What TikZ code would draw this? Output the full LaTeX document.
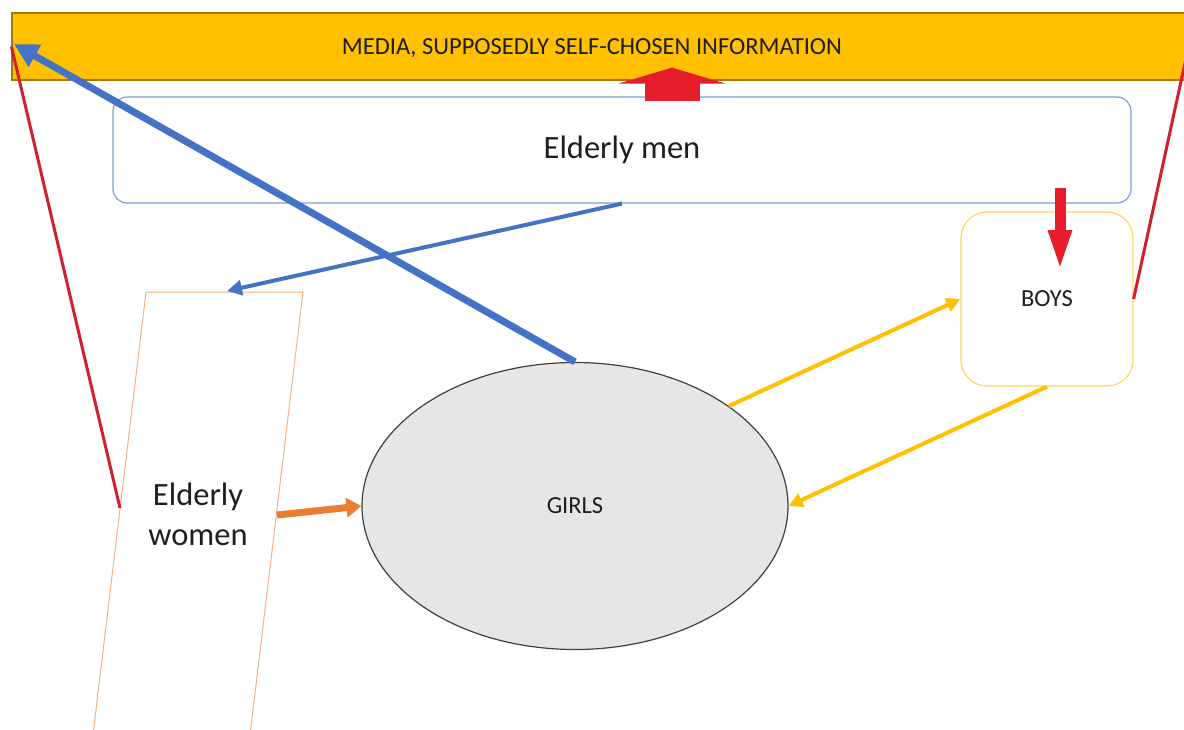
\documentclass[tikz,border=0pt]{standalone}
\usepackage{fontspec}
\setmainfont{Carlito}
\usepackage{tikz}
\usetikzlibrary{arrows.meta,calc,shapes.geometric}
\definecolor{mediagold}{HTML}{FFC000}
\definecolor{mediaedge}{HTML}{A07A10}
\definecolor{menblue}{HTML}{7F9ED6}
\definecolor{linkblue}{HTML}{4472C4}
\definecolor{boysgold}{HTML}{FFD75E}
\definecolor{womenorange}{HTML}{F2B084}
\definecolor{linkorange}{HTML}{ED7D31}
\definecolor{girlsgray}{HTML}{E6E6E6}
\definecolor{girlsedge}{HTML}{404040}
\definecolor{blockred}{HTML}{E61E2B}
\definecolor{linered}{HTML}{D02030}
\definecolor{txtgray}{HTML}{1E1E1E}

\begin{document}
\begin{tikzpicture}[x=1pt,y=-1pt,
  every node/.style={font=\fontsize{24.5}{29}\selectfont,text=txtgray},
  bigtext/.style={font=\fontsize{32.5}{40}\selectfont},
  yellowlink/.style={draw=mediagold,line width=4pt,-{Triangle[length=14pt,width=14pt]}},
  redline/.style={draw=linered,line width=3pt}]
\clip (0,0) rectangle (1184,729);
\fill[white] (0,0) rectangle (1184,729);
% media bar
\node[draw=mediaedge,fill=mediagold,line width=1.2pt,minimum width=1176pt,minimum height=67pt,inner sep=0pt] (media) at (600,46.5) {};
\node (medialbl) at (592,48) {MEDIA, SUPPOSEDLY SELF-CHOSEN INFORMATION};
% elderly men
\node[draw=menblue,rounded corners=14pt,line width=1.2pt,minimum width=1018pt,minimum height=106pt,bigtext] (men) at (622,150) {Elderly men};
% boys
\node[draw=boysgold,rounded corners=26pt,line width=1.2pt,minimum width=172pt,minimum height=174pt] (boys) at (1047,299) {BOYS};
% elderly women
\coordinate (wtl) at (146,292);
\coordinate (wtr) at (303,292);
\coordinate (wbr) at (247,760);
\coordinate (wbl) at (90,760);
\draw[womenorange,line width=1pt] (wtl) -- (wtr) -- (wbr) -- (wbl) -- cycle;
\node[bigtext,align=center] (women) at (198,514) {Elderly\\women};
\coordinate (wtop) at (227,291);
\coordinate (wleft) at (120,508);
\coordinate (wright) at (277,515);
% girls
\node[ellipse,draw=girlsedge,fill=girlsgray,line width=1.2pt,minimum width=426pt,minimum height=287pt,inner sep=0pt] (girls) at (575,506) {GIRLS};
% links
\coordinate (mediaW) at (14,44);
\draw[linkblue,line width=7pt,-{Triangle[length=24pt,width=24pt]}] (girls.north) -- (mediaW);
\draw[linkblue,line width=4pt,-{Triangle[length=15pt,width=15pt]}] (men.south) -- (wtop);
\draw[yellowlink] (girls.33) -- (boys.west);
\draw[yellowlink] (boys.south) -- (girls.east);
\draw[linkorange,line width=7pt,-{Triangle[length=15pt,width=19pt]}] (wright) -- (girls.west);
\draw[redline] (wleft) -- (media.west);
\draw[redline] (boys.east) -- (media.east);
% red block arrows
\coordinate (upS) at ($(men.north)+(50,5)$);
\coordinate (upE) at ($(media.south)+(72,-13)$);
\draw[blockred,line width=55pt,-{Triangle[length=16pt,width=107pt]}] (upS) -- (upE);
\coordinate (dnS) at (1060,188);
\coordinate (dnE) at (1060,272);
\draw[blockred,line width=11pt,-{Triangle[length=42pt,width=21pt]}] (dnS) -- (dnE);
\end{tikzpicture}
\end{document}
